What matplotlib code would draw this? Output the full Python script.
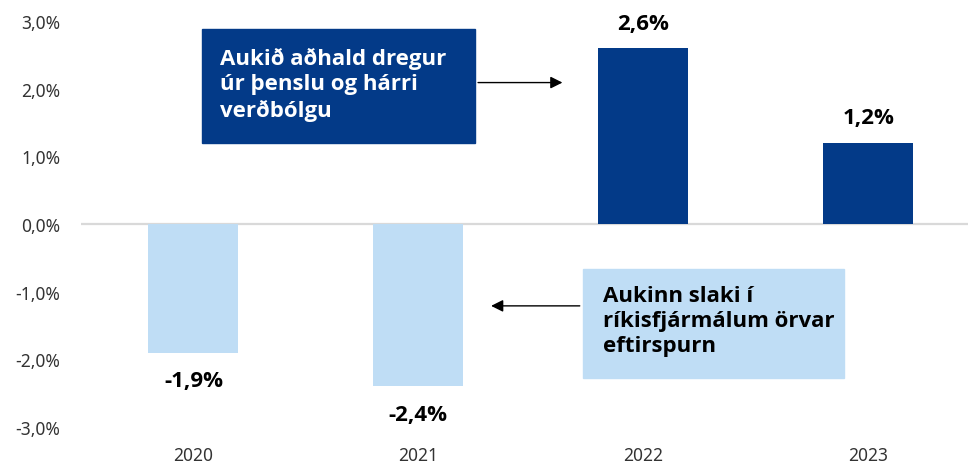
from matplotlib import pyplot as plt
from matplotlib.patches import Rectangle

years = ['2020', '2021', '2022', '2023']
values = [-1.9, -2.4, 2.6, 1.2]
value_labels = ['-1,9%', '-2,4%', '2,6%', '1,2%']
yticks = [-3, -2, -1, 0, 1, 2, 3]
ytick_labels = ['-3,0%', '-2,0%', '-1,0%', '0,0%', '1,0%', '2,0%', '3,0%']
note_up = 'Aukið aðhald dregur\núr þenslu og hárri\nverðbólgu'
note_down = 'Aukinn slaki í\nríkisfjármálum örvar\neftirspurn'

dark = '#033a88'
light = '#bfddf5'
bold_font = ['Open Sans', 'DejaVu Sans']

plt.rcParams['font.family'] = ['Noto Sans', 'DejaVu Sans']

fig = plt.figure(figsize=(9.68, 4.64), dpi=100)
ax = fig.add_axes([0.0837, 0.0776, 0.9163, 0.875])

x = list(range(len(years)))
colors = [light if v < 0 else dark for v in values]
ax.bar(x, values, width=0.4, color=colors, zorder=2)
ax.axhline(0, color='#d9d9d9', lw=1.6, zorder=1)

for xi, v, lab in zip(x, values, value_labels):
    off = 18 if v > 0 else -20
    ax.annotate(lab, (xi, v), xytext=(0, off), textcoords='offset points',
                ha='center', va='center', fontsize=16, fontweight='bold',
                family=bold_font, color='black')

ax.set_xlim(-0.5, 3.444)
ax.set_ylim(-3, 3)
ax.set_yticks(yticks)
ax.set_yticklabels(ytick_labels, fontsize=12.5, color='#333333')
ax.set_xticks(x)
ax.set_xticklabels(years, fontsize=12.5, color='#333333')
ax.tick_params(length=0)
ax.tick_params(axis='y', pad=15)
ax.tick_params(axis='x', pad=14)
for s in ax.spines.values():
    s.set_visible(False)

# annotation boxes
ax.add_patch(Rectangle((0.036, 1.19), 1.217, 1.69, color=dark, zorder=3))
ax.text(0.12, 2.07, note_up, ha='left', va='center', fontsize=16,
        fontweight='bold', family=bold_font, color='white', linespacing=1.25, zorder=4)
ax.annotate('', xy=(1.653, 2.09), xytext=(1.253, 2.09),
            arrowprops=dict(arrowstyle='-|>', color='black', lw=1, mutation_scale=18), zorder=4)

ax.add_patch(Rectangle((1.73, -2.27), 1.164, 1.61, color=light, zorder=3))
ax.text(1.82, -1.43, note_down, ha='left', va='center', fontsize=16,
        fontweight='bold', family=bold_font, color='black', linespacing=1.25, zorder=4)
ax.annotate('', xy=(1.311, -1.21), xytext=(1.73, -1.21),
            arrowprops=dict(arrowstyle='-|>', color='black', lw=1, mutation_scale=18), zorder=4)

fig.savefig('out.png', dpi=100)
